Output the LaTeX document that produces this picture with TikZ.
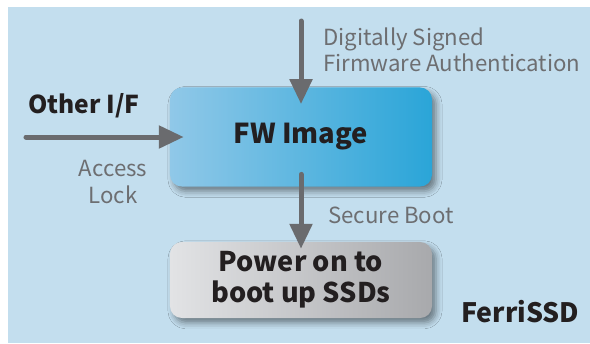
\documentclass[tikz,border=0pt]{standalone}
\usepackage{fontspec}
\setmainfont{Noto Sans CJK SC}
\usetikzlibrary{positioning,arrows.meta,shadows.blur}
\definecolor{bgblue}{HTML}{C3DEEE}
\definecolor{fwleft}{HTML}{90C8E8}
\definecolor{fwright}{HTML}{2AA5D8}
\definecolor{pwleft}{HTML}{E2E3E5}
\definecolor{pwright}{HTML}{A8A9AC}
\definecolor{arrowgray}{HTML}{6A6B6E}
\definecolor{notegray}{HTML}{6D6E71}
\definecolor{txtdark}{HTML}{231F20}

\begin{document}
\begin{tikzpicture}[x=0.025cm,y=-0.025cm,
    box/.style={rounded corners=0.3cm, minimum width=6.55cm, text=txtdark, align=center,
        blur shadow={shadow xshift=0.1cm, shadow yshift=-0.12cm, shadow blur radius=0.15cm, shadow opacity=45}},
    flow/.style={draw=arrowgray, line width=0.125cm, -{Triangle[length=0.62cm,width=0.55cm]}},
    note/.style={text=notegray, font=\fontsize{15.8}{18.5}\selectfont, inner sep=0pt},
    title/.style={text=txtdark, font=\bfseries\fontsize{19}{22}\selectfont, inner sep=0pt}]
    \useasboundingbox (0,0) rectangle (590,343);
    \fill[bgblue] (8,7) rectangle (590,343);

    % boxes
    \node[box, minimum height=2.475cm, left color=fwleft, right color=fwright,
        font=\bfseries\fontsize{19.5}{22}\selectfont] (fw) at (301,137) {FW Image};
    \node[box, minimum height=1.9cm, left color=pwleft, right color=pwright,
        font=\bfseries\fontsize{19.3}{22}\selectfont] (power) at (301,280) {Power on to\\boot up SSDs};

    % arrows
    \coordinate (signin) at (301,21);
    \coordinate (ifin) at (26,137);
    \draw[flow, line cap=round, shorten >=-0.42cm] (signin) -- (fw.north);
    \draw[flow, line cap=round, shorten >=-0.35cm] (ifin) -- (fw.west);
    \draw[flow, line cap=round, shorten <=-0.31cm, shorten >=-0.175cm] (fw.south) -- (power.north);

    % labels
    \node[note, anchor=north west, align=left] (signlabel) at (323,28) {Digitally Signed\\Firmware Authentication};
    \node[note, align=center] (locklabel) at (113,182) {Access\\Lock};
    \node[note, anchor=base west] (bootlabel) at (328,223) {Secure Boot};
    \node[title, anchor=base west, font=\bfseries\fontsize{17.5}{22}\selectfont] (iflabel) at (28,113) {Other I/F};
    \node[title, anchor=base west] (ferri) at (461,322) {FerriSSD};
\end{tikzpicture}
\end{document}
